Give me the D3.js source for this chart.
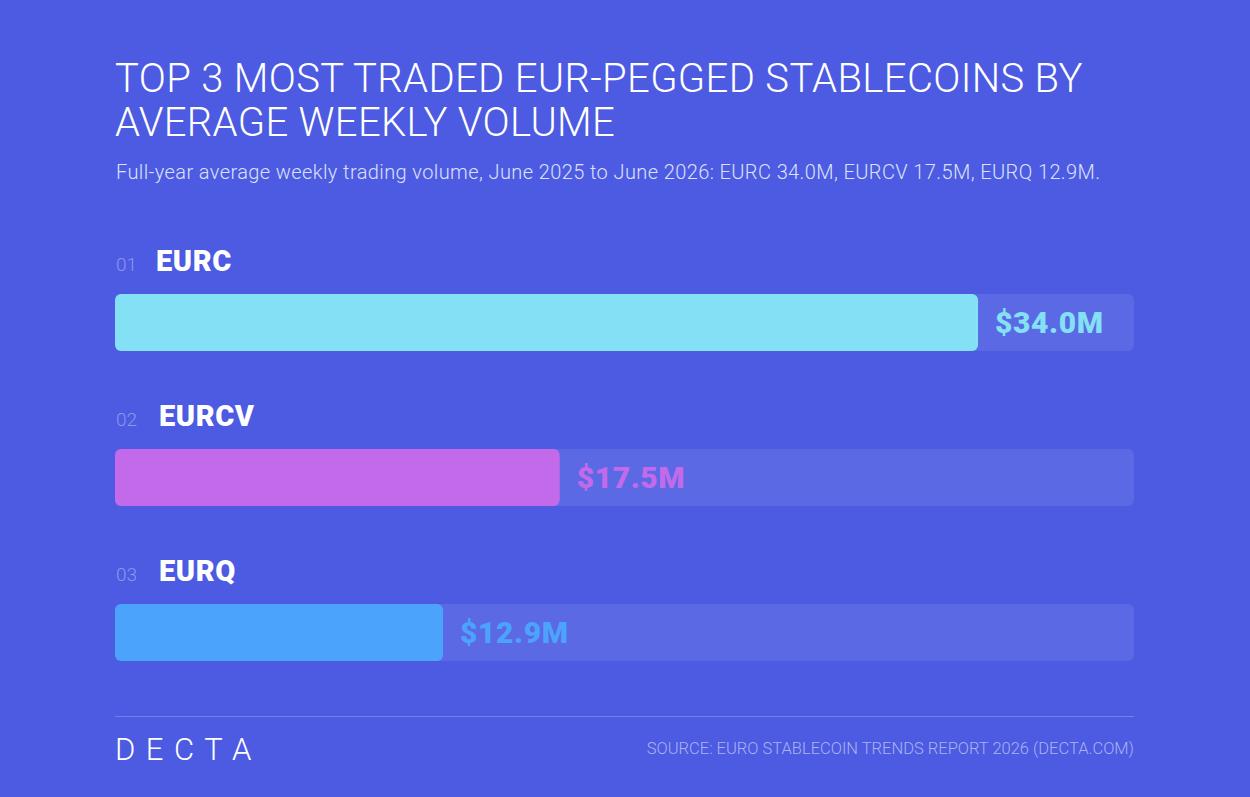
<!DOCTYPE html>
<html>
<head>
<meta charset="utf-8">
<script src="https://cdn.jsdelivr.net/npm/d3@7"></script>
<style>
  html, body { margin: 0; padding: 0; background: #4c5be1; }
  svg { display: block; }
</style>
</head>
<body>
<svg id="chart"></svg>
<script>
// Dados do gráfico
const coins = ["EURC", "EURCV", "EURQ"];
const ranks = ["01", "02", "03"];
const volumes = [34.0, 17.5, 12.9];
const colors = ["#84e0f4", "#c36aea", "#4ba3fc"];
const trackMax = 40.15; // fim do trilho de fundo, em milhões
const titleLines = ["TOP 3 MOST TRADED EUR-PEGGED STABLECOINS BY", "AVERAGE WEEKLY VOLUME"];
const subtitle = "Full-year average weekly trading volume, June 2025 to June 2026: EURC 34.0M, EURCV 17.5M, EURQ 12.9M.";
const source = "SOURCE: EURO STABLECOIN TRENDS REPORT 2026 (DECTA.COM)";

const width = 1250;
const height = 797;

const svg = d3.select("#chart")
  .attr("width", width)
  .attr("height", height);

svg.append("rect")
  .attr("width", width)
  .attr("height", height)
  .attr("fill", "#4c5be1");

// Título e subtítulo
svg.selectAll("text.title")
  .data(titleLines)
  .enter()
  .append("text")
  .attr("class", "title")
  .attr("x", 115)
  .attr("y", (d, i) => 92 + i * 44)
  .attr("fill", "#ffffff")
  .style("font-family", "Roboto")
  .style("font-weight", 300)
  .style("font-size", "40px")
  .style("letter-spacing", "0.35px")
  .text(d => d);

svg.append("text")
  .attr("x", 116)
  .attr("y", 179)
  .attr("fill", "#dde1fb")
  .style("font-family", "Roboto")
  .style("font-weight", 300)
  .style("font-size", "20px")
  .style("letter-spacing", "0.4px")
  .text(subtitle);

// Escalas
const x = d3.scaleLinear()
  .domain([0, trackMax])
  .range([116, 1134]);

const y = d3.scaleBand()
  .domain(coins)
  .range([245, 710])
  .paddingInner(0);

const rowOffset = 49;   // distância do topo da linha até a barra
const barH = 57;

const row = svg.selectAll("g.row")
  .data(coins.map((c, i) => ({ coin: c, rank: ranks[i], value: volumes[i], color: colors[i] })))
  .enter()
  .append("g")
  .attr("class", "row")
  .attr("transform", d => `translate(0,${y(d.coin)})`);

// Trilho de fundo
row.append("rect")
  .attr("x", x(0) - 1)
  .attr("y", rowOffset)
  .attr("width", x(trackMax) - x(0) + 1)
  .attr("height", barH)
  .attr("rx", 6)
  .attr("fill", "#5b69e4");

// Barra
row.append("rect")
  .attr("x", x(0) - 1)
  .attr("y", rowOffset)
  .attr("width", d => x(d.value) - x(0) + 1)
  .attr("height", barH)
  .attr("rx", 6)
  .attr("fill", d => d.color);

// Rótulo de posição
row.append("text")
  .attr("x", 116)
  .attr("y", 26)
  .attr("fill", "#8c96ec")
  .style("font-family", "Roboto")
  .style("font-weight", 300)
  .style("font-size", "19px")
  .text(d => d.rank);

// Nome da moeda
row.append("text")
  .attr("x", (d, i) => i === 0 ? 156 : 159)
  .attr("y", 26)
  .attr("fill", "#ffffff")
  .style("font-family", "Roboto")
  .style("font-weight", 900)
  .style("font-size", "29px")
  .style("letter-spacing", "0.6px")
  .text(d => d.coin);

// Valor
row.append("text")
  .attr("x", d => x(d.value) + 17)
  .attr("y", rowOffset + barH / 2)
  .attr("dy", "0.36em")
  .attr("fill", d => d.color)
  .style("font-family", "Roboto")
  .style("font-weight", 900)
  .style("font-size", "30px")
  .style("letter-spacing", "0.6px")
  .text(d => `$${d.value.toFixed(1)}M`);

// Rodapé
svg.append("line")
  .attr("x1", 115)
  .attr("x2", 1134)
  .attr("y1", 716.5)
  .attr("y2", 716.5)
  .attr("stroke", "#7380ea")
  .attr("stroke-width", 1);

svg.append("text")
  .attr("x", 115)
  .attr("y", 760)
  .attr("fill", "#ffffff")
  .style("font-family", "Roboto")
  .style("font-weight", 300)
  .style("font-size", "31px")
  .style("letter-spacing", "10.5px")
  .text("DECTA");

svg.append("text")
  .attr("x", 1134)
  .attr("y", 754)
  .attr("text-anchor", "end")
  .attr("fill", "#aab2f2")
  .style("font-family", "Roboto")
  .style("font-weight", 300)
  .style("font-size", "16.5px")
  .text(source);
</script>
</body>
</html>
